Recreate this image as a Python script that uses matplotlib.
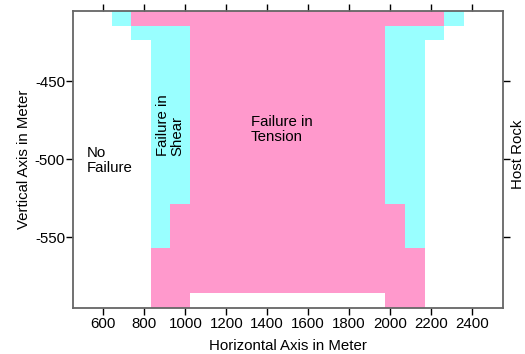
import numpy as np
import matplotlib
matplotlib.use("Agg")
from matplotlib import pyplot as plt
from matplotlib.colors import ListedColormap

plt.rcParams['font.family'] = ['Liberation Sans', 'DejaVu Sans']
plt.rcParams['axes.unicode_minus'] = False

# cell edges of the failure grid (meters)
x_edges = np.linspace(450, 2550, 23)
y_edges = np.linspace(-405, -595, 21)

# '.' = no failure, 'S' = failure in shear, 'P' = failure in tension (top row first)
zone_rows = [
    "..SPPPPPPPPPPPPPPPPS..",
    "...SSSPPPPPPPPPPSSS...",
    "....SSPPPPPPPPPPSS....",
    "....SSPPPPPPPPPPSS....",
    "....SSPPPPPPPPPPSS....",
    "....SSPPPPPPPPPPSS....",
    "....SSPPPPPPPPPPSS....",
    "....SSPPPPPPPPPPSS....",
    "....SSPPPPPPPPPPSS....",
    "....SSPPPPPPPPPPSS....",
    "....SSPPPPPPPPPPSS....",
    "....SSPPPPPPPPPPSS....",
    "....SSPPPPPPPPPPSS....",
    "....SPPPPPPPPPPPPS....",
    "....SPPPPPPPPPPPPS....",
    "....SPPPPPPPPPPPPS....",
    "....PPPPPPPPPPPPPP....",
    "....PPPPPPPPPPPPPP....",
    "....PPPPPPPPPPPPPP....",
    "....PP..........PP....",
]
codes = {".": 0, "S": 1, "P": 2}
zone_colors = ["#FFFFFF", "#99FFFF", "#FF99CC"]

x_ticks = [600, 800, 1000, 1200, 1400, 1600, 1800, 2000, 2200, 2400]
y_ticks = [-450, -500, -550]

grid = np.array([[codes[c] for c in row] for row in zone_rows])

fig = plt.figure(figsize=(5.25, 3.54), dpi=100)
ax = fig.add_axes([0.1385, 0.1308, 0.819, 0.839])
ax.pcolormesh(x_edges, y_edges, grid, cmap=ListedColormap(zone_colors),
              vmin=-0.5, vmax=2.5, shading="flat")

ax.set_xlim(450, 2550)
ax.set_ylim(-595, -405)
ax.set_xticks(x_ticks)
ax.set_yticks(y_ticks)
ax.tick_params(direction="out", length=5, width=1, labelsize=10.8, pad=1.5,
               top=True, right=True, labeltop=False, labelright=False)
ax.tick_params(axis="y", pad=0.5)
for s in ax.spines.values():
    s.set_color("#666666")
    s.set_linewidth(1.3)

ax.set_xlabel("Horizontal Axis in Meter", fontsize=10.8, labelpad=6)
ax.set_ylabel("Vertical Axis in Meter", fontsize=10.8, labelpad=3)

ax.text(520, -501, "No\nFailure", fontsize=10.8, ha="left", va="center",
        linespacing=1.05)
ax.text(925, -478, "Failure in\nShear", fontsize=10.8, rotation=90,
        ha="center", va="center", multialignment="left", linespacing=1.05)
ax.text(1320, -481, "Failure in\nTension", fontsize=10.8, ha="left",
        va="center", linespacing=1.05)
fig.text(518 / 525, 1 - 154 / 354, "Host Rock", fontsize=10.8, rotation=90,
         ha="center", va="center")

plt.savefig("out.png", dpi=100)
